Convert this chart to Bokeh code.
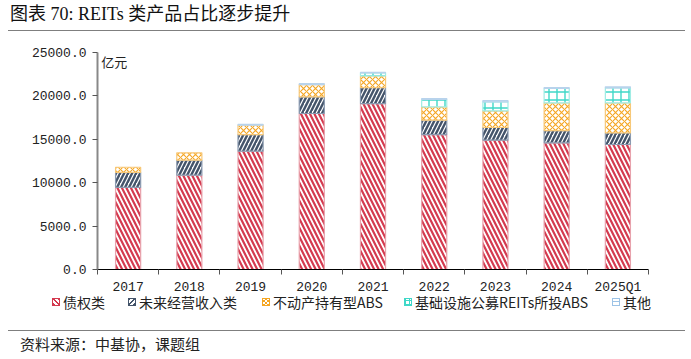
from bokeh.plotting import figure
from bokeh.models import ColumnDataSource, FixedTicker, Range1d, Div, Label
from bokeh.layouts import column
from bokeh.embed import file_html
from bokeh.resources import INLINE

categories = ["2017", "2018", "2019", "2020", "2021", "2022", "2023", "2024", "2025Q1"]
debt = [9450, 10870, 13630, 17970, 19120, 15550, 14900, 14590, 14400]
future_income = [1750, 1730, 1920, 1920, 1840, 1650, 1460, 1420, 1340]
property_abs = [580, 840, 1080, 1420, 1340, 1540, 1920, 3190, 3460]
infra_abs = [0, 0, 0, 0, 350, 850, 1040, 1650, 1730]
other = [0, 0, 100, 100, 60, 110, 150, 110, 110]
series_names = ["债权类", "未来经营收入类", "不动产持有型ABS", "基础设施公募REITs所投ABS", "其他"]
y_ticks = [0, 5000, 10000, 15000, 20000, 25000]

series = [debt, future_income, property_abs, infra_abs, other]
hatch_colors = ["#d43a4f", "#44546a", "#f5a623", "#40d8c8", "#9dc3e6"]
line_colors = ["#e8a2ac", "#8a9ab0", "#f7c878", "#a0ece4", "#b8d3ec"]
patterns = ["\\", "/", "x", "+", "-"]
scales = [9, 8, 6, 8, 6]
weights = [2.2, 2.4, 1.1, 1.4, 1.0]

NUM = "Liberation Mono, Noto Sans CJK SC"
CJK = "Noto Sans CJK SC"

n = len(categories)
xs = [i + 0.5 for i in range(n)]

p = figure(width=683, height=266, output_backend="svg", toolbar_location=None,
           x_range=Range1d(0, n), y_range=Range1d(0, 25000),
           min_border_left=97, min_border_right=35, min_border_top=21, min_border_bottom=25,
           margin=0)
p.outline_line_color = None
p.xgrid.visible = False
p.ygrid.visible = False

bottom = [0] * n
for k, vals in enumerate(series):
    top = [b + v for b, v in zip(bottom, vals)]
    src = ColumnDataSource(dict(x=xs, bottom=bottom, top=top,
                                la=[0.0 if v == 0 else 1.0 for v in vals]))
    p.vbar(x="x", bottom="bottom", top="top", width=0.41, source=src, line_alpha="la",
           fill_color="white", line_color=line_colors[k], line_width=1.2,
           hatch_pattern=patterns[k], hatch_color=hatch_colors[k],
           hatch_scale=scales[k], hatch_weight=weights[k])
    bottom = top

# axes
xa = p.xaxis[0]
xa.ticker = FixedTicker(ticks=xs, minor_ticks=list(range(n + 1)))
xa.major_label_overrides = {x: c for x, c in zip(xs, categories)}
xa.major_tick_out = 0
xa.major_tick_in = 0
xa.minor_tick_out = 5
xa.minor_tick_in = 0
xa.minor_tick_line_color = "#555555"
xa.axis_line_color = "black"
xa.major_label_text_font = NUM
xa.major_label_text_font_size = "13px"
xa.major_label_text_color = "#222222"
xa.major_label_standoff = 5

ya = p.yaxis[0]
ya.ticker = FixedTicker(ticks=y_ticks)
ya.major_label_overrides = {t: f"{t:.1f}" for t in y_ticks}
ya.axis_line_color = "#888888"
ya.axis_line_width = 2
ya.major_tick_out = 5
ya.major_tick_in = 0
ya.major_tick_line_color = "#555555"
ya.minor_tick_out = 0
ya.minor_tick_in = 0
ya.major_label_text_font = NUM
ya.major_label_text_font_size = "13px"
ya.major_label_text_color = "#222222"
ya.major_label_standoff = 6

p.add_layout(Label(x=0.06, y=24000, text="亿元", text_font=CJK, text_font_size="13px",
                   text_baseline="middle", text_color="#222222"))

# legend strip (HTML), swatches styled like the bar hatches
def swatch_bg(pat, col):
    if pat == "\\":
        return f"repeating-linear-gradient(45deg, {col} 0 1.6px, #fff 1.6px 3.6px)"
    if pat == "/":
        return f"repeating-linear-gradient(-45deg, {col} 0 1.8px, #fff 1.8px 3.8px)"
    if pat == "x":
        return (f"repeating-linear-gradient(45deg, {col} 0 0.8px, transparent 0.8px 3px),"
                f"repeating-linear-gradient(-45deg, {col} 0 0.8px, #fff 0.8px 3px)")
    if pat == "+":
        return (f"repeating-linear-gradient(0deg, {col} 0 1px, transparent 1px 4px),"
                f"repeating-linear-gradient(90deg, {col} 0 1px, #fff 1px 4px)")
    return f"repeating-linear-gradient(0deg, #fff 0 3px, {col} 3px 4px, #fff 4px 7px)"

legend_left = [52, 128, 262, 404, 612]
items = []
for k, name in enumerate(series_names):
    items.append(
        f'<div style="position:absolute;left:{legend_left[k]}px;top:-3px;height:16px;'
        f'display:flex;align-items:center;white-space:nowrap">'
        f'<span style="display:inline-block;width:8px;height:8px;border:1px solid {hatch_colors[k]};'
        f'background:{swatch_bg(patterns[k], hatch_colors[k])}"></span>'
        f'<span style="margin-left:3px;font-family:{CJK};font-size:14px;line-height:16px;'
        f'color:#222">{name}</span></div>')
legend_div = Div(text='<div style="position:relative;width:683px;height:33px">' + "".join(items)
                 + '</div>', width=683, height=33, margin=0)

title = Div(text='<div style="margin-left:8px;width:677px;height:31px;border-bottom:1px solid #7f7f7f;'
                 'font-size:18px;line-height:28px;padding-left:2px;box-sizing:border-box;'
                 'font-family:Liberation Serif, Noto Sans CJK SC;color:#111;white-space:nowrap">'
                 '图表 70: REITs 类产品占比逐步提升</div>', width=683, height=31, margin=0)
source = Div(text='<div style="margin-left:8px;width:677px;height:28px;border-top:1px solid #7f7f7f;'
                  'font-size:15px;line-height:26px;padding-left:12px;box-sizing:border-box;'
                  'font-family:Noto Sans CJK SC;color:#222;white-space:nowrap">'
                  '资料来源：中基协，课题组</div>', width=683, height=28, margin=0)

layout = column(title, p, legend_div, source, spacing=0, margin=0)
open("out.html", "w").write(file_html(layout, INLINE))
